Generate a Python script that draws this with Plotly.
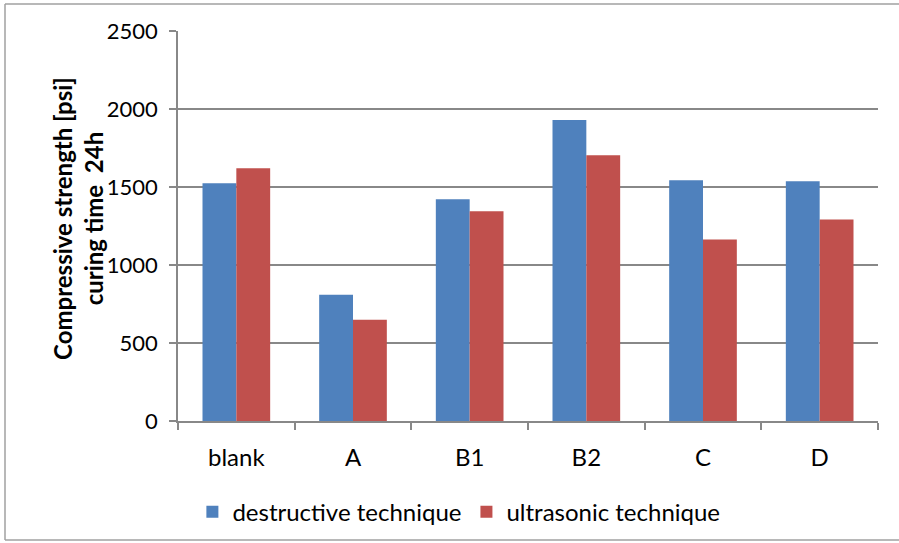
import plotly.graph_objects as go

categorias = ["blank", "A", "B1", "B2", "C", "D"]
destrutiva = [1524, 810, 1421, 1929, 1543, 1537]
ultrassom = [1620, 649, 1344, 1704, 1164, 1292]

fonte = "Lato, 'Open Sans', sans-serif"
cinza = "#888888"

fig = go.Figure()
fig.add_trace(go.Bar(x=categorias, y=destrutiva, name="destructive technique",
                     marker=dict(color="#4F81BD", line=dict(width=0))))
fig.add_trace(go.Bar(x=categorias, y=ultrassom, name="ultrasonic technique",
                     marker=dict(color="#C0504D", line=dict(width=0))))

fig.update_layout(
    width=899, height=543,
    margin=dict(l=178, r=21, t=31, b=122),
    plot_bgcolor="white", paper_bgcolor="white",
    barmode="group", bargap=0.42, bargroupgap=0,
    font=dict(family=fonte, size=22, color="#000000"),
    showlegend=True,
    legend=dict(orientation="h", xref="container", yref="container",
                x=0.214, y=0.057, xanchor="left", yanchor="middle",
                font=dict(size=24), itemwidth=30, traceorder="normal"),
)

fig.update_yaxes(range=[0, 2500], dtick=500, showgrid=True, gridcolor=cinza, gridwidth=1.6,
                 showline=True, linecolor=cinza, linewidth=1.6,
                 ticks="outside", ticklen=7, tickcolor=cinza, tickwidth=1.6,
                 tickfont=dict(size=22), ticklabelstandoff=7, zeroline=False)
fig.update_xaxes(showline=True, linecolor=cinza, linewidth=1.6,
                 ticks="outside", tickson="boundaries", ticklen=7, tickcolor=cinza, tickwidth=1.6,
                 tickfont=dict(size=24), ticklabelstandoff=14)

# título do eixo y em duas linhas
fig.add_annotation(text="<b>Compressive strength [psi]<br>curing time  24h</b>",
                   xref="paper", yref="paper", x=(78 - 178) / 700, y=0.518,
                   xanchor="center", yanchor="middle", textangle=-90, showarrow=False,
                   font=dict(size=24))

# moldura externa (só esquerda, topo e base), termina na borda direita da página
x_esq = (5 - 178) / 700
x_dir = (899 - 178) / 700
y_base = (421 - 540) / 390
y_topo = (421 - 4) / 390
moldura = dict(color="#a0a0a0", width=1.5)
fig.add_shape(type="line", xref="paper", yref="paper", x0=x_esq, x1=x_esq, y0=y_base, y1=y_topo, line=moldura)
fig.add_shape(type="line", xref="paper", yref="paper", x0=x_esq, x1=x_dir, y0=y_topo, y1=y_topo, line=moldura)
fig.add_shape(type="line", xref="paper", yref="paper", x0=x_esq, x1=x_dir, y0=y_base, y1=y_base, line=moldura)

# tira a margem padrão do body para o gráfico começar em (0, 0)
fig.write_html("out.html", config={"displayModeBar": False},
               post_script="document.body.style.margin='0';")
